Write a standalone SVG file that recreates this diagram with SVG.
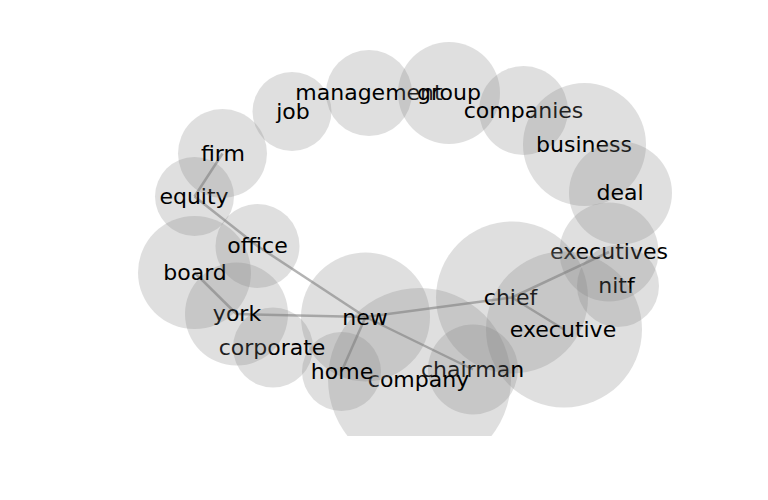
<svg xmlns="http://www.w3.org/2000/svg" width="768" height="500" viewBox="0 0 768 500">
<defs>
<clipPath id="axes"><rect x="0" y="0" width="768" height="436"/></clipPath>
</defs>
<style>
.bubble{fill:#808080;fill-opacity:0.25;stroke:none}
.lbl{font-family:"DejaVu Sans","Liberation Sans",sans-serif;font-size:22px;fill:#000;text-anchor:middle}
.edge{stroke:#808080;stroke-opacity:0.6;stroke-width:2.5;fill:none}
</style>
<rect width="768" height="500" fill="#ffffff"/>
<g id="edges">
<line class="edge" x1="222.5" y1="153.5" x2="194.5" y2="196.5"/>
<line class="edge" x1="194.5" y1="196.5" x2="257.5" y2="246"/>
<line class="edge" x1="257.5" y1="246" x2="365.5" y2="317"/>
<line class="edge" x1="194.5" y1="272.5" x2="236.5" y2="314"/>
<line class="edge" x1="236.5" y1="314" x2="365.5" y2="317"/>
<line class="edge" x1="365.5" y1="317" x2="341.5" y2="371.5"/>
<line class="edge" x1="365.5" y1="317" x2="512" y2="297.5"/>
<line class="edge" x1="365.5" y1="317" x2="473" y2="369.5"/>
<line class="edge" x1="512" y1="297.5" x2="609" y2="252"/>
<line class="edge" x1="512" y1="297.5" x2="564" y2="329.5"/>
</g>
<g id="node-job"><circle class="bubble" cx="292" cy="111.5" r="39.5"/><text class="lbl" x="293" y="118.5">job</text></g>
<g id="node-management"><circle class="bubble" cx="369" cy="93" r="43"/><text class="lbl" x="369" y="100">management</text></g>
<g id="node-group"><circle class="bubble" cx="449" cy="93" r="51"/><text class="lbl" x="449" y="100">group</text></g>
<g id="node-companies"><circle class="bubble" cx="523.5" cy="110.5" r="44.5"/><text class="lbl" x="523.5" y="117.5">companies</text></g>
<g id="node-business"><circle class="bubble" cx="584.5" cy="144.5" r="61.5"/><text class="lbl" x="584" y="151.5">business</text></g>
<g id="node-deal"><circle class="bubble" cx="620.5" cy="193" r="51.5"/><text class="lbl" x="620" y="200">deal</text></g>
<g id="node-executives"><circle class="bubble" cx="609" cy="252" r="49.5"/><text class="lbl" x="609" y="259">executives</text></g>
<g id="node-nitf"><circle class="bubble" cx="618" cy="286" r="41"/><text class="lbl" x="616.5" y="293">nitf</text></g>
<g id="node-chief"><circle class="bubble" cx="512" cy="297.5" r="76"/><text class="lbl" x="510.5" y="305">chief</text></g>
<g id="node-executive"><circle class="bubble" cx="564" cy="329.5" r="78"/><text class="lbl" x="563" y="336.5">executive</text></g>
<g id="node-chairman"><circle class="bubble" cx="473" cy="369.5" r="45"/><text class="lbl" x="472.5" y="376.5">chairman</text></g>
<g id="node-company" clip-path="url(#axes)"><circle class="bubble" cx="419.5" cy="379.5" r="91.5"/><text class="lbl" x="418.5" y="386.5">company</text></g>
<g id="node-new"><circle class="bubble" cx="365.5" cy="317" r="64.5"/><text class="lbl" x="365" y="324.5">new</text></g>
<g id="node-home"><circle class="bubble" cx="341.5" cy="371.5" r="39.5"/><text class="lbl" x="342" y="378.5">home</text></g>
<g id="node-corporate"><circle class="bubble" cx="273" cy="347.5" r="40"/><text class="lbl" x="272" y="354.5">corporate</text></g>
<g id="node-york"><circle class="bubble" cx="236.5" cy="314" r="51.5"/><text class="lbl" x="237" y="321">york</text></g>
<g id="node-board"><circle class="bubble" cx="194.5" cy="272.5" r="56.5"/><text class="lbl" x="195" y="279.5">board</text></g>
<g id="node-office"><circle class="bubble" cx="257.5" cy="246" r="42"/><text class="lbl" x="257.5" y="253">office</text></g>
<g id="node-equity"><circle class="bubble" cx="194.5" cy="196.5" r="39.5"/><text class="lbl" x="194" y="203.5">equity</text></g>
<g id="node-firm"><circle class="bubble" cx="222.5" cy="153.5" r="44.5"/><text class="lbl" x="223" y="161">firm</text></g>
</svg>
